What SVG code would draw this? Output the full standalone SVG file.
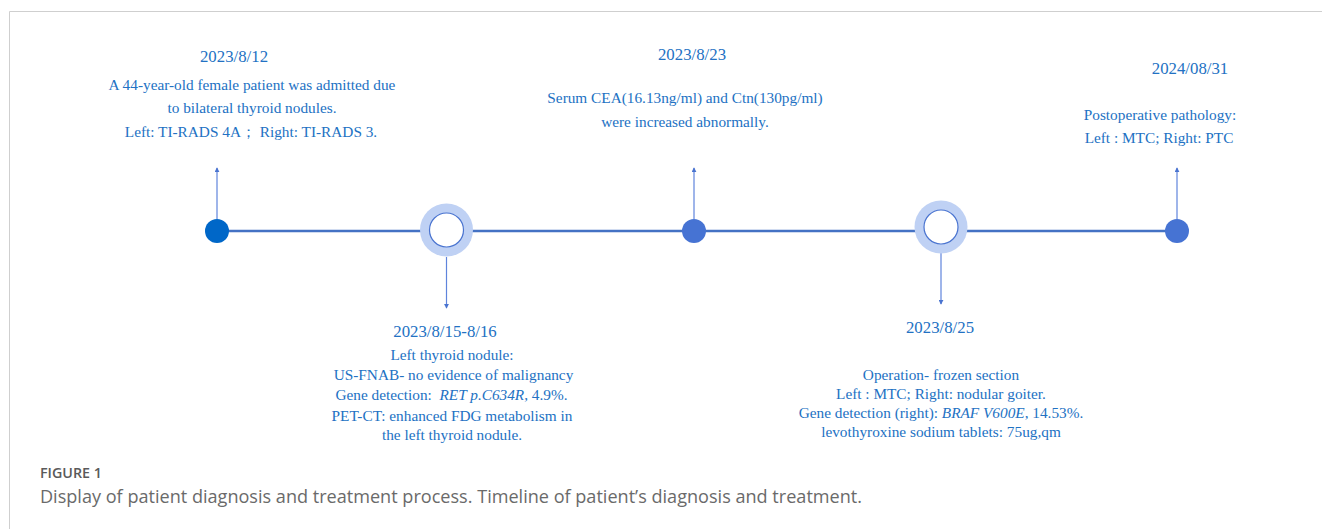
<svg xmlns="http://www.w3.org/2000/svg" width="1322" height="529" viewBox="0 0 1322 529">
<style>
.t{font-family:"Liberation Serif","Times New Roman",serif;fill:#2271c3;text-anchor:middle}
.d{font-size:16.8px}
.b{font-size:15.3px}
.i{font-style:italic}
.cap{font-family:"Open Sans","Liberation Sans",sans-serif}
.arr{stroke:#5f84dc;stroke-width:1.2;fill:none}
.ring{fill:#bfd1f4}
.inner{fill:#fff;stroke:#4a74d0;stroke-width:1.2}
</style>
<defs>
<marker id="ah" viewBox="0 0 6 6" refX="5" refY="3" markerWidth="5" markerHeight="5" orient="auto" markerUnits="userSpaceOnUse">
<path d="M0,0 L6,3 L0,6 z" fill="#4a74d0"/>
</marker>
</defs>
<rect width="1322" height="529" fill="#fff"/>
<path d="M9.5,529 V11.5 H1322" fill="none" stroke="#cfcfcf" stroke-width="1"/>
<g id="connectors">
<line x1="217" y1="231" x2="1177" y2="231" stroke="#4472c4" stroke-width="2.5"/>
<line class="arr" x1="217" y1="219" x2="217" y2="168" marker-end="url(#ah)"/>
<line class="arr" x1="446.5" y1="257" x2="446.5" y2="308" marker-end="url(#ah)"/>
<line class="arr" x1="694" y1="219" x2="694" y2="168" marker-end="url(#ah)"/>
<line class="arr" x1="941" y1="253" x2="941" y2="304" marker-end="url(#ah)"/>
<line class="arr" x1="1177" y1="219" x2="1177" y2="168" marker-end="url(#ah)"/>
</g>
<g id="node1">
<circle cx="217" cy="231" r="12" fill="#0067c8"/>
<text class="t d" x="234" y="62">2023/8/12</text>
<text class="t b" x="252" y="90">A 44-year-old female patient was admitted due</text>
<text class="t b" x="252" y="113">to bilateral thyroid nodules.</text>
<text class="t b" x="251" y="137">Left: TI-RADS 4A；  Right: TI-RADS 3.</text>
</g>
<g id="node2">
<circle class="ring" cx="446.5" cy="230" r="26.5"/>
<circle class="inner" cx="446.5" cy="230" r="17"/>
<text class="t d" x="445" y="337">2023/8/15-8/16</text>
<text class="t b" x="452" y="360">Left thyroid nodule:</text>
<text class="t b" x="453.5" y="380">US-FNAB- no evidence of malignancy</text>
<text class="t b" x="451.5" y="400" xml:space="preserve">Gene detection:  <tspan class="i">RET p.C634R</tspan>, 4.9%.</text>
<text class="t b" x="452" y="420.5">PET-CT: enhanced FDG metabolism in</text>
<text class="t b" x="452" y="440">the left thyroid nodule.</text>
</g>
<g id="node3">
<circle cx="694" cy="231" r="12" fill="#4673d3"/>
<text class="t d" x="692" y="60">2023/8/23</text>
<text class="t b" x="685" y="103">Serum CEA(16.13ng/ml) and Ctn(130pg/ml)</text>
<text class="t b" x="685" y="127">were increased abnormally.</text>
</g>
<g id="node4">
<circle class="ring" cx="941" cy="227" r="26.5"/>
<circle class="inner" cx="941" cy="227" r="17"/>
<text class="t d" x="940" y="333">2023/8/25</text>
<text class="t b" x="941" y="380">Operation- frozen section</text>
<text class="t b" x="941" y="399">Left : MTC; Right: nodular goiter.</text>
<text class="t b" x="941" y="418">Gene detection (right): <tspan class="i">BRAF V600E</tspan>, 14.53%.</text>
<text class="t b" x="941" y="437">levothyroxine sodium tablets: 75ug,qm</text>
</g>
<g id="node5">
<circle cx="1177" cy="231" r="12" fill="#4673d3"/>
<text class="t d" x="1190" y="74">2024/08/31</text>
<text class="t b" x="1160" y="120">Postoperative pathology:</text>
<text class="t b" x="1159" y="143">Left : MTC; Right: PTC</text>
</g>
<g id="caption">
<text class="cap" x="40" y="478" font-size="14" font-weight="600" fill="#5a5a5a" textLength="62" lengthAdjust="spacingAndGlyphs">FIGURE 1</text>
<text class="cap" x="40" y="503" font-size="18" fill="#6a6a6a" textLength="822" lengthAdjust="spacingAndGlyphs">Display of patient diagnosis and treatment process. Timeline of patient’s diagnosis and treatment.</text>
</g>
</svg>
